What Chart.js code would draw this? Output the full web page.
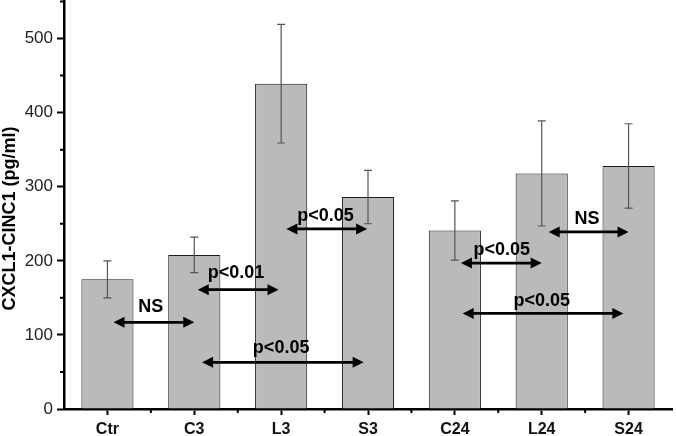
<!DOCTYPE html>
<html>
<head>
<meta charset="utf-8">
<script src="https://cdn.jsdelivr.net/npm/chart.js@4.4.1/dist/chart.umd.min.js"></script>
<style>
  html, body { margin: 0; padding: 0; background: #fff; }
  #wrap { width: 676px; height: 436px; }
</style>
</head>
<body>
<div id="wrap"><canvas id="chart" width="676" height="436"></canvas></div>
<script>
// Bar data
const categories = ['Ctr', 'C3', 'L3', 'S3', 'C24', 'L24', 'S24'];
const means = [175, 208, 439, 286, 241, 318, 328];
const errors = [25, 24, 80, 36, 40, 71, 57];

// Significance arrows (x in category index units, y in pg/ml)
const arrowLabels = ['NS', 'p<0.01', 'p<0.05', 'p<0.05', 'p<0.05', 'NS', 'p<0.05'];
const arrowFrom = [0.07, 1.04, 1.09, 2.06, 4.07, 5.08, 4.09];
const arrowTo = [1.0, 1.97, 2.95, 2.99, 5.0, 6.0, 5.94];
const arrowY = [117, 161, 63, 243, 197, 239, 129];
const labelX = [0.5, 1.48, 2.0, 2.51, 4.54, 5.52, 5.0];
const labelY = [140, 185, 84, 262, 217, 259, 148];

const yTitle = 'CXCL1-CINC1 (pg/ml)';
const FONT = "'Liberation Sans', Arial, sans-serif";

// Draw error bars from the dataset values
const errorBars = {
  id: 'errorBars',
  afterDatasetsDraw(chart) {
    const ctx = chart.ctx;
    const y = chart.scales.y;
    const meta = chart.getDatasetMeta(0);
    ctx.save();
    ctx.strokeStyle = '#555';
    ctx.lineWidth = 1.2;
    meta.data.forEach((bar, i) => {
      const top = y.getPixelForValue(means[i] + errors[i]);
      const bot = y.getPixelForValue(means[i] - errors[i]);
      ctx.beginPath();
      ctx.moveTo(bar.x, top); ctx.lineTo(bar.x, bot);
      ctx.moveTo(bar.x - 4, top); ctx.lineTo(bar.x + 4, top);
      ctx.moveTo(bar.x - 4, bot); ctx.lineTo(bar.x + 4, bot);
      ctx.stroke();
    });
    ctx.restore();
  }
};

// Minor ticks on both axes, plus the y title (sits a bit below centre in the original)
const minorTicks = {
  id: 'minorTicks',
  afterDraw(chart) {
    const ctx = chart.ctx;
    const { x, y } = chart.scales;
    ctx.save();
    ctx.strokeStyle = '#000';
    ctx.lineWidth = 2;
    ctx.beginPath();
    for (let v = 50; v <= 550; v += 100) {
      const py = y.getPixelForValue(v);
      ctx.moveTo(x.left, py); ctx.lineTo(x.left - 4, py);
    }
    for (let i = 0; i < categories.length - 1; i++) {
      const px = x.getPixelForValue(i + 0.5);
      ctx.moveTo(px, y.bottom); ctx.lineTo(px, y.bottom + 4);
    }
    ctx.stroke();

    ctx.translate(10, y.getPixelForValue(257));
    ctx.rotate(-Math.PI / 2);
    ctx.font = 'bold 18px ' + FONT;
    ctx.fillStyle = '#000';
    ctx.textAlign = 'center';
    ctx.textBaseline = 'middle';
    ctx.fillText(yTitle, 0, 0);
    ctx.restore();
  }
};

function drawArrow(ctx, x1, x2, yy) {
  const head = 11, half = 5.5;
  ctx.beginPath();
  ctx.moveTo(x1 + head - 1, yy); ctx.lineTo(x2 - head + 1, yy);
  ctx.stroke();
  ctx.beginPath();
  ctx.moveTo(x1, yy); ctx.lineTo(x1 + head, yy - half); ctx.lineTo(x1 + head, yy + half);
  ctx.closePath();
  ctx.moveTo(x2, yy); ctx.lineTo(x2 - head, yy - half); ctx.lineTo(x2 - head, yy + half);
  ctx.closePath();
  ctx.fill();
}

// Significance arrows and labels
const sigArrows = {
  id: 'sigArrows',
  afterDatasetsDraw(chart) {
    const ctx = chart.ctx;
    const { x, y } = chart.scales;
    ctx.save();
    ctx.strokeStyle = '#000';
    ctx.fillStyle = '#000';
    ctx.lineWidth = 2.8;
    arrowLabels.forEach((txt, i) => {
      drawArrow(ctx, x.getPixelForValue(arrowFrom[i]), x.getPixelForValue(arrowTo[i]), y.getPixelForValue(arrowY[i]));
      ctx.font = 'bold 18px ' + FONT;
      ctx.textAlign = 'center';
      ctx.textBaseline = 'alphabetic';
      ctx.fillText(txt, x.getPixelForValue(labelX[i]), y.getPixelForValue(labelY[i]) + 6.5);
    });
    ctx.restore();
  }
};

new Chart(document.getElementById('chart'), {
  type: 'bar',
  data: {
    labels: categories,
    datasets: [{
      data: means,
      backgroundColor: '#bababa',
      borderColor: '#1a1a1a',
      borderWidth: 1,
      barPercentage: 0.6,
      categoryPercentage: 1
    }]
  },
  options: {
    responsive: false,
    animation: false,
    layout: { padding: { top: 1.5, right: 4, left: 0, bottom: 0 } },
    plugins: { legend: { display: false }, tooltip: { enabled: false } },
    scales: {
      x: {
        afterFit: s => { s.height = 27; s.paddingLeft = 0; s.paddingRight = 0; },
        border: { color: '#000', width: 2.5 },
        grid: { offset: false, drawOnChartArea: false, tickLength: 6, tickWidth: 2, tickColor: '#000' },
        ticks: { color: '#111', padding: 5, font: { family: FONT, size: 16, weight: 'bold' } }
      },
      y: {
        min: 0,
        max: 550,
        afterFit: s => { s.width = 64; s.paddingTop = 0; s.paddingBottom = 0; },
        border: { color: '#000', width: 2.5 },
        grid: {
          drawOnChartArea: false,
          tickLength: 7,
          tickWidth: 2,
          tickColor: c => (c.tick && c.tick.value % 100 === 0) ? '#000' : 'rgba(0,0,0,0)'
        },
        ticks: {
          stepSize: 50,
          color: '#222',
          padding: 4,
          font: { family: FONT, size: 17 },
          callback: v => (v % 100 === 0 ? v : '')
        }
      }
    }
  },
  plugins: [errorBars, sigArrows, minorTicks]
});
</script>
</body>
</html>
